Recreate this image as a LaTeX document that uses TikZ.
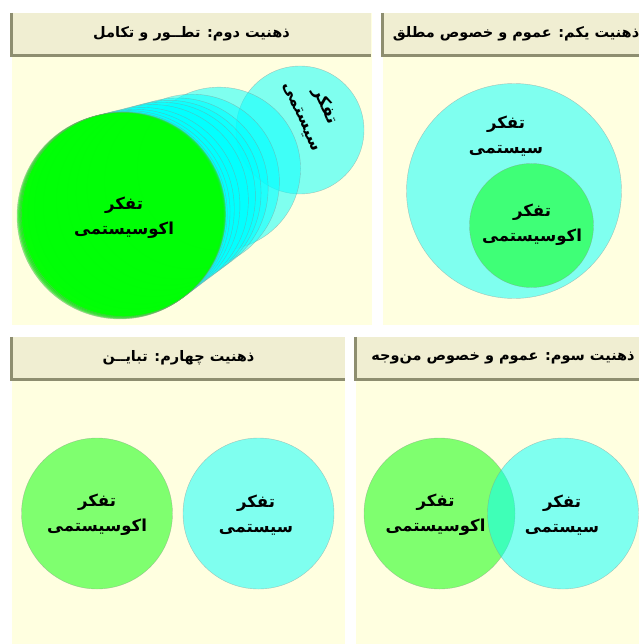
\documentclass[tikz,border=0pt]{standalone}
\usepackage{fontspec}
\usepackage{tikz}
\newfontfamily\arabicfont[Script=Arabic]{DejaVu Sans}
\TeXXeTstate=1
\newcommand{\pe}[1]{\beginR #1\endR}
\definecolor{panelbg}{HTML}{FFFFE0}
\definecolor{barbg}{HTML}{F0EED2}
\definecolor{bardark}{HTML}{8E8E70}
\definecolor{sysfill}{RGB}{0,255,255}
\definecolor{ecofill}{RGB}{0,255,0}

\begin{document}
\begin{tikzpicture}[
  x=1pt, y=-1pt,
  panel/.style={fill=panelbg},
  titlebar/.style={fill=barbg, minimum height=42pt, inner sep=0pt,
                   font=\arabicfont\bfseries\fontsize{14.5}{18}\selectfont},
  bevel/.style={draw=bardark, line width=3pt},
  blob/.style={circle, inner sep=0pt, fill opacity=0.5, draw=black!45, draw opacity=0.5, line width=0.4pt},
  sysc/.style={blob, fill=sysfill},
  ecoc/.style={blob, fill=ecofill},
  lbl/.style={align=center, font=\arabicfont\bfseries\fontsize{16.5}{25}\selectfont},
]
\fill[white] (0,0) rectangle (638,644);
\useasboundingbox (0,0) rectangle (638,644);

% panels
\fill[panel] (12,13) rectangle (372,325);
\fill[panel] (383,13) rectangle (650,325);
\fill[panel] (12,337) rectangle (345,650);
\fill[panel] (356,337) rectangle (650,650);

% title bars
\node[titlebar, minimum width=359pt] (t2) at (191.5,34) {\pe{ذهنیت دوم: تطــور و تکامل}};
\node[titlebar, minimum width=267pt] (t1) at (516,34) {\pe{ذهنیت یکم: عموم و خصوص مطلق}};
\node[titlebar, minimum width=333pt] (t4) at (178.5,358) {\pe{ذهنیت چهارم: تبایــن}};
\node[titlebar, minimum width=294pt] (t3) at (503,358) {\pe{ذهنیت سوم: عموم و خصوص من‌وجه}};
\foreach \t in {t1,t2,t3,t4}
  \draw[bevel] (\t.north west) -- (\t.south west) -- (\t.south east);

% first: absolute inclusion
\node[sysc, minimum size=215pt] (sys1) at (514,191) {};
\node[ecoc, minimum size=124pt] (eco1) at (531.5,225.5) {};
\node[lbl] (sys1l) at (506,136) {\pe{تفکر}\\\pe{سیستمی}};
\node[lbl] (eco1l) at (532,225) {\pe{تفکر}\\\pe{اکوسیستمی}};

% second: evolution
\foreach \k/\s in {1/1, 2/0.55, 3/0.40, 4/0.32, 5/0.27, 6/0.23, 7/0.18, 8/0.12, 9/0.08, 10/0.05, 11/0.03}
  \node[sysc, minimum size={2*(103-39*\s)*1pt}] (morph\k) at ({120+180*\s},{216-86*\s}) {};
\foreach \k/\s in {1/0, 2/0.005, 3/0.01, 4/0.015, 5/0.02}
  \node[ecoc, minimum size={2*(103-39*\s)*1pt}] (eco2\k) at ({120+180*\s},{216-86*\s}) {};
\node[lbl] (eco2l) at (124,218) {\pe{تفکر}\\\pe{اکوسیستمی}};
\node[lbl, rotate=-66] (sys2l) at (314,111) {\pe{تفکر}\\\pe{سیستمی}};

% third: partial overlap
\node[ecoc, minimum size=151pt] (eco3) at (439.5,513.5) {};
\node[sysc, minimum size=151pt] (sys3) at (563,513.5) {};
\node[lbl] (eco3l) at (435.5,515) {\pe{تفکر}\\\pe{اکوسیستمی}};
\node[lbl] (sys3l) at (562,515) {\pe{تفکر}\\\pe{سیستمی}};

% fourth: disjoint
\node[ecoc, minimum size=151pt] (eco4) at (97,513.5) {};
\node[sysc, minimum size=151pt] (sys4) at (258.5,513.5) {};
\node[lbl] (eco4l) at (97,515) {\pe{تفکر}\\\pe{اکوسیستمی}};
\node[lbl] (sys4l) at (256,515) {\pe{تفکر}\\\pe{سیستمی}};
\end{tikzpicture}
\end{document}
